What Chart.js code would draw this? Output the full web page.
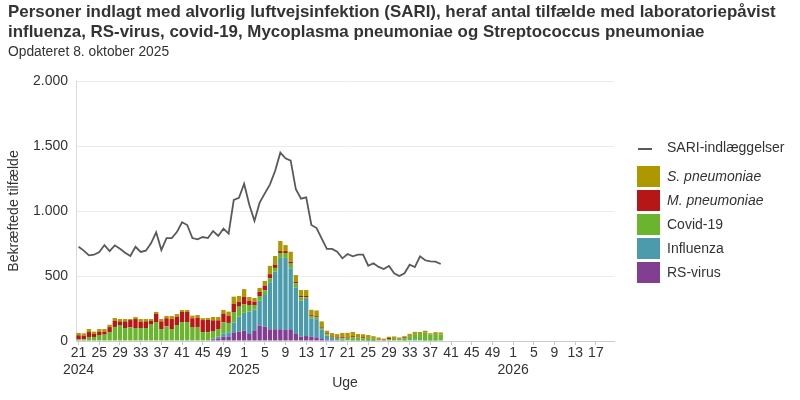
<!DOCTYPE html>
<html lang="da">
<head>
<meta charset="utf-8">
<script src="https://cdn.jsdelivr.net/npm/chart.js@4/dist/chart.umd.min.js"></script>
<style>
  body { margin: 0; background: #fff; font-family: "Liberation Sans", Arial, sans-serif; color: #333; }
  #wrap { position: relative; width: 800px; height: 400px; }
  #chart { position: absolute; left: 0; top: 0; }
  #title { position: absolute; left: 8px; top: 2px; font-size: 16.9px; font-weight: bold; line-height: 20px; color: #333; white-space: nowrap; }
  #subtitle { position: absolute; left: 8px; top: 44px; font-size: 13.8px; line-height: 16px; color: #333; }
  #legend { position: absolute; left: 637px; top: 137px; font-size: 14px; color: #333; }
  .item { position: relative; height: 24px; }
  .item.first { height: 29px; }
  .item .box { position: absolute; left: 0; top: 0; width: 23px; height: 21px; }
  .item .ln { position: absolute; left: 1px; top: 11px; width: 14px; height: 2px; }
  .item .txt { position: absolute; left: 30px; top: 2px; line-height: 17px; white-space: nowrap; }
</style>
</head>
<body>
<div id="wrap">
  <canvas id="chart" width="800" height="400"></canvas>
  <div id="title">Personer indlagt med alvorlig luftvejsinfektion (SARI), heraf antal tilfælde med laboratoriepåvist<br>influenza, RS-virus, covid-19, Mycoplasma pneumoniae og Streptococcus pneumoniae</div>
  <div id="subtitle">Opdateret 8. oktober 2025</div>
  <div id="legend"></div>
</div>
<script>

// ---------------------------------------------------------------------------
// Data: uge 21 2024 - uge 20 2026 (data til og med uge 39 2025)
// ---------------------------------------------------------------------------

var weeks = [
  21, 22, 23, 24, 25, 26, 27, 28, 29, 30, 31, 32, 33, 34, 35, 36, 37, 38, 39, 40,
  41, 42, 43, 44, 45, 46, 47, 48, 49, 50, 51, 52,
  1, 2, 3, 4, 5, 6, 7, 8, 9, 10, 11, 12, 13, 14, 15, 16, 17, 18, 19, 20,
  21, 22, 23, 24, 25, 26, 27, 28, 29, 30, 31, 32, 33, 34, 35, 36, 37, 38, 39, 40,
  41, 42, 43, 44, 45, 46, 47, 48, 49, 50, 51, 52,
  1, 2, 3, 4, 5, 6, 7, 8, 9, 10, 11, 12, 13, 14, 15, 16, 17, 18, 19, 20
];
var yearIndex = [0, 32, 84];
var yearText = ['2024', '2025', '2026'];

var sari = [
  725, 695, 659, 664, 685, 738, 692, 736, 710, 679, 654, 725, 685, 695, 751, 836,
  700, 792, 792, 838, 913, 892, 792, 782, 800, 792, 846, 808, 864, 825, 1085, 1102,
  1210, 1048, 924, 1064, 1136, 1205, 1310, 1449, 1405, 1387, 1167, 1095, 1105, 892,
  869, 787, 708, 708, 687, 636, 669, 651, 664, 664, 579, 598, 570, 554, 577, 521,
  500, 521, 587, 569, 651, 621, 613, 610, 592
];
var rsv = [
  0, 0, 0, 0, 0, 0, 0, 0, 0, 0, 0, 0, 0, 0, 0, 0, 0, 0, 0, 0, 0, 0, 0, 0, 0, 0,
  13, 20, 33, 31, 67, 72,
  79, 54, 82, 118, 110, 90, 90, 90, 85, 90, 54, 33, 38, 33, 28, 15, 10, 8, 5, 3,
  0, 0, 0, 0, 0, 0, 0, 0, 0, 0, 0, 0, 0, 0, 0, 0, 0, 0, 0
];
var influenza = [
  0, 0, 0, 0, 0, 0, 0, 0, 0, 0, 0, 0, 0, 0, 0, 0, 0, 0, 0, 0, 0, 8, 0, 0, 0, 0,
  8, 13, 26, 36, 74, 115,
  138, 172, 159, 192, 244, 362, 444, 549, 554, 469, 356, 277, 285, 141, 140, 72, 31, 15, 10, 8,
  5, 3, 3, 3, 2, 2, 0, 0, 0, 0, 0, 3, 5, 13, 5, 3, 3, 3, 0
];
var covid = [
  13, 13, 31, 31, 46, 49, 69, 108, 123, 100, 105, 100, 100, 100, 126, 146, 92, 113, 92, 123,
  146, 138, 103, 108, 69, 67, 56, 59, 85, 72, 82, 77,
  67, 51, 36, 36, 36, 31, 28, 38, 38, 36, 33, 26, 13, 15, 15, 13, 10, 10, 10, 10,
  20, 26, 26, 18, 23, 20, 15, 5, 15, 23, 15, 18, 33, 40, 48, 60, 46, 51, 50
];
var mpneu = [
  31, 28, 38, 23, 26, 23, 38, 46, 28, 51, 56, 69, 49, 51, 28, 62, 59, 62, 77, 64,
  77, 77, 72, 72, 92, 95, 82, 67, 67, 54, 62, 38,
  56, 33, 26, 31, 36, 31, 23, 15, 15, 15, 13, 10, 10, 10, 8, 5, 8, 8, 8, 8,
  5, 8, 5, 8, 3, 2, 2, 5, 8, 2, 2, 8, 2, 2, 1, 1, 1, 1, 1
];
var spneu = [
  18, 18, 23, 18, 20, 20, 18, 23, 18, 18, 8, 15, 20, 18, 15, 15, 18, 18, 23, 20,
  15, 15, 20, 20, 15, 15, 26, 26, 28, 33, 56, 44,
  59, 28, 28, 31, 36, 64, 69, 77, 46, 77, 51, 46, 46, 41, 44, 46, 20, 20, 20, 33,
  33, 33, 20, 23, 18, 13, 10, 8, 10, 10, 10, 8, 15, 15, 15, 15, 10, 13, 15
];

// ---------------------------------------------------------------------------
// Chart
// ---------------------------------------------------------------------------

var textColor = '#333';
var font14 = { family: '"Liberation Sans", Arial, sans-serif', size: 14 };

function bars(label, data, color, italic) {
  return {
    type: 'bar', label: label, data: data, backgroundColor: color,
    stack: 'lab', order: 1, italic: italic,
    categoryPercentage: 1, barPercentage: 0.84
  };
}

var ctx = document.getElementById('chart').getContext('2d');

var chart = new Chart(ctx, {
  data: {
    labels: weeks,
    datasets: [
      bars('RS-virus', rsv, '#823f91', false),
      bars('Influenza', influenza, '#4c9bad', false),
      bars('Covid-19', covid, '#6bb42e', false),
      bars('M. pneumoniae', mpneu, '#b71616', true),
      bars('S. pneumoniae', spneu, '#ad9800', true),
      {
        type: 'line', label: 'SARI-indlæggelser', data: sari,
        borderColor: '#595959', borderWidth: 1.8, pointRadius: 0,
        stack: 'sari', order: 0, tension: 0
      }
    ]
  },
  options: {
    responsive: false,
    animation: false,
    layout: { padding: { left: 0, right: 186, top: 81, bottom: 0 } },
    plugins: { legend: { display: false }, tooltip: { enabled: false } },
    scales: {
      x: {
        stacked: true,
        afterFit: function (scale) { scale.height = 59; },
        grid: {
          offset: false, drawOnChartArea: false, tickLength: 4,
          color: function (c) { return c.index % 4 === 0 ? '#c8c8c8' : 'rgba(0,0,0,0)'; }
        },
        border: { color: '#cccccc' },
        ticks: {
          autoSkip: false, maxRotation: 0, padding: 0, color: textColor, font: font14,
          callback: function (value, index) {
            if (index % 4 !== 0) return '';
            var y = yearIndex.indexOf(index);
            var w = String(weeks[index]);
            return y >= 0 ? [w, yearText[y]] : w;
          }
        },
        title: { display: true, text: 'Uge', color: textColor, font: font14, padding: { top: 0, bottom: 8.6 } }
      },
      y: {
        stacked: true,
        min: 0, max: 2000,
        afterFit: function (scale) { scale.width = 76; },
        grid: { color: '#ebebeb', drawTicks: false },
        border: { display: true, color: '#d9d9d9' },
        ticks: {
          stepSize: 500, padding: 8, color: textColor, font: font14,
          callback: function (v) { return String(v).replace(/\B(?=(\d{3})+(?!\d))/g, '.'); }
        },
        title: { display: true, text: 'Bekræftede tilfælde', color: textColor, font: font14, padding: { top: 5.6, bottom: 0 } }
      }
    }
  }
});

// ---------------------------------------------------------------------------
// Legend (HTML, to allow italic species names)
// ---------------------------------------------------------------------------

var legend = document.getElementById('legend');
chart.data.datasets.slice().reverse().forEach(function (ds) {
  var item = document.createElement('div');
  item.className = 'item';
  var mark = document.createElement('div');
  if (ds.type === 'line') {
    item.className = 'item first';
    mark.className = 'ln';
    mark.style.background = ds.borderColor;
  } else {
    mark.className = 'box';
    mark.style.background = ds.backgroundColor;
  }
  var txt = document.createElement('div');
  txt.className = 'txt';
  txt.textContent = ds.label;
  if (ds.italic) txt.style.fontStyle = 'italic';
  item.appendChild(mark);
  item.appendChild(txt);
  legend.appendChild(item);
});

</script>
</body>
</html>
